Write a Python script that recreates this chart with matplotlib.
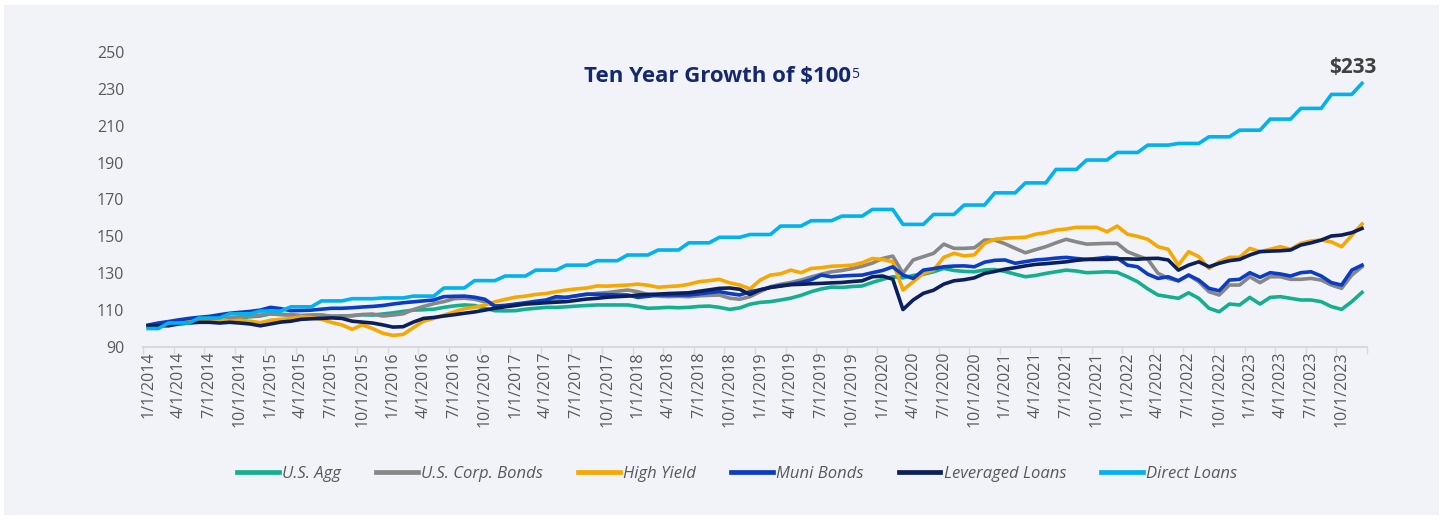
import numpy as np
import pandas as pd
import matplotlib
matplotlib.use("Agg")
import matplotlib.pyplot as plt
from matplotlib.patches import Rectangle
from matplotlib.lines import Line2D

# monthly x categories, 1/1/2014 .. 12/1/2023
months = pd.date_range("2014-01-01", periods=120, freq="MS")
month_labels = [f"{d.month}/{d.day}/{d.year}" for d in months]

us_agg = [
    101.5, 102, 102.2, 103, 104, 104.5, 104.5, 105, 105, 105.8, 106.4, 106.8, 108, 107.8, 107.5, 107, 107.2, 107.3, 106.5, 106.8,
    107, 107.5, 107.3, 107.9, 108.5, 109.3, 110, 110.2, 110.5, 111.5, 112.3, 112.8, 112.5, 111, 109.7, 109.6, 109.7, 110.5, 111, 111.5,
    111.5, 111.8, 112.2, 112.5, 112.8, 112.8, 112.8, 112.8, 112, 111, 111.2, 111.5, 111.3, 111.5, 112, 112.2, 111.5, 110.4, 111.2, 113.2,
    114.2, 114.6, 115.5, 116.5, 118, 120, 121.5, 122.5, 122.3, 122.8, 123.1, 125, 126.7, 128.1, 127.5, 128.8, 129.5, 130.8, 132.6, 131.5,
    131, 130.8, 131.8, 132, 131, 129.5, 128.1, 128.8, 129.9, 130.8, 131.7, 131.2, 130.3, 130.5, 130.8, 130.5, 128.1, 125.4, 121.5, 118.2,
    117.3, 116.4, 119.4, 116.4, 111, 109.1, 113.3, 112.8, 116.9, 113.3, 116.9, 117.3, 116.4, 115.5, 115.5, 114.6, 111.9, 110.4, 114.6, 119.6,
]
us_corp = [
    101.5, 102.5, 103, 103.5, 104.5, 104.8, 105.3, 105.5, 105.8, 106.3, 106.8, 107.3, 108, 107.5, 107.3, 107, 107.3, 107.3, 106.8, 106.8,
    107, 107.6, 107.9, 106.8, 107.3, 108, 110.3, 112, 113.5, 114.6, 116.2, 116.5, 115.9, 114.5, 112.3, 112.5, 113, 113.5, 114, 114.8,
    115.8, 117, 117.8, 118.5, 119.1, 119.5, 120.2, 120.9, 120, 118.5, 117.6, 117.3, 117.5, 117.3, 117.8, 118, 118.2, 116.5, 115.9, 117.3,
    120, 122.7, 124, 125, 126.3, 128, 129.5, 130.8, 131.5, 132.5, 133.8, 135.5, 138, 139.3, 130, 137.2, 139, 140.8, 145.8, 143.5,
    143.5, 143.8, 148, 148, 146, 143.5, 141.1, 142.8, 144.4, 146.5, 148.4, 147, 145.8, 146, 146.2, 146.2, 141.7, 139.5, 137.5, 130,
    127.2, 125.9, 129, 125.4, 120, 118.2, 123.6, 123.6, 128.1, 124.9, 128.1, 128.1, 126.7, 126.7, 127.2, 126.3, 123.6, 121.8, 129, 133.5,
]
high_yield = [
    101, 102.5, 103, 103.5, 104.5, 105, 104, 105, 104, 104.5, 104, 103.2, 104.5, 105, 105.5, 106.4, 106, 105, 103.3, 102,
    99.6, 102, 100, 97.5, 96.3, 96.8, 100.5, 104, 105.5, 107.3, 109, 110.8, 111.5, 112.8, 114.5, 115.8, 117, 117.6, 118.5, 119,
    120, 120.9, 121.5, 122, 123.1, 123, 123.3, 123.6, 124.1, 123.5, 122.4, 122.8, 123.1, 124, 125.4, 126, 126.7, 124.8, 123.6, 121.5,
    126.3, 129, 129.7, 131.7, 130.3, 132.6, 133, 133.8, 134, 134.4, 135.7, 138, 137.5, 136.2, 120.9, 125.4, 129.9, 131.7, 138.6, 140.8,
    139.4, 140, 146.2, 148.4, 149, 149.3, 149.5, 151.2, 152, 153.4, 154, 154.9, 154.9, 154.9, 152.5, 155.6, 151.2, 150, 148.4, 144.4,
    143, 134.4, 141.7, 139, 132.6, 136.2, 138.6, 138.6, 143.5, 141.7, 143, 144.4, 143, 146.2, 147.5, 148, 147, 144.4, 150.5, 156.7,
]
muni = [
    101.9, 103, 103.8, 104.7, 105.5, 106.1, 106.6, 107.5, 108.3, 108.8, 109.3, 110, 111.5, 110.8, 109.7, 109.8, 110, 110.5, 111, 111,
    111.3, 111.7, 112, 112.5, 113.3, 114, 114.5, 115, 115.5, 117.3, 117.5, 117.6, 117, 115.9, 112.2, 112.5, 113.3, 114, 114.8, 115.5,
    117.3, 116.9, 117.8, 118.7, 118.5, 118.4, 118.2, 118.2, 116.9, 117.5, 118.2, 118.2, 118.2, 118.2, 118.8, 119.5, 120, 119, 118.2, 120,
    121, 122.3, 123.3, 124, 125, 126.5, 129, 128.1, 128.5, 128.8, 129, 130.3, 131.5, 133.5, 129, 127.2, 131.7, 132.5, 133.5, 133.9,
    134, 133.5, 136, 137, 137.2, 135.4, 136.3, 137.2, 137.6, 138.2, 138.6, 138, 137.5, 138, 138.6, 138.3, 134.4, 133.5, 129.5, 127.2,
    128.1, 125.9, 129, 126.3, 121.8, 120.5, 126.3, 126.7, 130.3, 127.8, 130.3, 129.6, 128.5, 130.3, 130.8, 128.5, 124.9, 123.6, 131.7, 134.4,
]
lev_loans = [
    101.5, 101.5, 101.5, 102.5, 103, 103.4, 103.4, 103, 103.4, 103, 102.5, 101.5, 102.5, 103.5, 104, 105, 105.3, 105.5, 105.8, 105.5,
    104, 103.5, 103, 102, 100.8, 101, 103.5, 105.5, 106, 106.8, 107.5, 108.3, 109, 110, 111, 111.8, 112.5, 113.3, 113.6, 114,
    114.3, 114.6, 115.3, 116, 116.4, 117, 117.3, 117.6, 118.2, 118.5, 118.7, 119, 119.2, 119.4, 120.2, 121, 121.8, 122, 121.3, 118.5,
    121, 122.3, 123, 123.8, 124, 124.3, 124.5, 124.8, 125, 125.5, 125.9, 128.1, 128.5, 126.8, 110.3, 115.5, 119.1, 120.8, 124.1, 125.9,
    126.5, 127.5, 129.9, 131, 132.2, 133, 134, 134.8, 135.2, 135.7, 136.2, 137, 137.5, 137.5, 137.5, 137.8, 137.8, 137.6, 138, 138.1,
    137.2, 131.7, 134.4, 136.2, 133.5, 135.4, 136.8, 137.5, 139.9, 141.7, 142, 142.2, 142.6, 145.3, 146.5, 148, 150.2, 150.7, 152, 154.3,
]
direct_loans = [
    100, 100, 103, 103, 103, 105.7, 105.7, 105.7, 108, 108, 108, 109.5, 109.5, 109.5, 111.8, 111.8, 111.8, 115, 115, 115,
    116.2, 116.2, 116.2, 116.6, 116.6, 116.6, 117.6, 117.6, 117.6, 122, 122, 122, 126, 126, 126, 128.5, 128.5, 128.5, 131.7, 131.7,
    131.7, 134.4, 134.4, 134.4, 136.8, 136.8, 136.8, 139.9, 139.9, 139.9, 142.6, 142.6, 142.6, 146.5, 146.5, 146.5, 149.5, 149.5, 149.5, 151,
    151, 151, 155.6, 155.6, 155.6, 158.5, 158.5, 158.5, 161, 161, 161, 164.6, 164.6, 164.6, 156.5, 156.5, 156.5, 161.9, 161.9, 161.9,
    167, 167, 167, 173.6, 173.6, 173.6, 179, 179, 179, 186.3, 186.3, 186.3, 191.4, 191.4, 191.4, 195.5, 195.5, 195.5, 199.5, 199.5,
    199.5, 200.4, 200.4, 200.4, 204, 204, 204, 207.6, 207.6, 207.6, 213.6, 213.6, 213.6, 219.4, 219.4, 219.4, 227, 227, 227, 233,
]

series_names = ["U.S. Agg", "U.S. Corp. Bonds", "High Yield", "Muni Bonds", "Leveraged Loans", "Direct Loans"]
series_values = [us_agg, us_corp, high_yield, muni, lev_loans, direct_loans]
series_colors = ["#14B08E", "#878787", "#F7A800", "#0B3DC4", "#0A1F5C", "#00B2EE"]

plt.rcParams["font.family"] = ["Open Sans", "DejaVu Sans"]

fig = plt.figure(figsize=(14.43, 5.2), dpi=100, facecolor="white")
# light panel behind the chart
fig.patches.append(Rectangle((0.003, 0.01), 0.994, 0.98, transform=fig.transFigure,
                             facecolor="#F2F3F8", edgecolor="none", zorder=-10))

ax = fig.add_axes([0.0991, 0.3327, 0.8483, 0.5673])
ax.set_facecolor("none")

x = np.arange(len(months))
for name, vals, col in zip(series_names, series_values, series_colors):
    ax.plot(x, vals, color=col, lw=2.6, label=name)

ax.set_xlim(-0.5, len(months) - 0.5)
ax.set_ylim(90, 250)
ax.set_yticks(range(90, 251, 20))

# tick marks between categories, labels on every 3rd month
ax.set_xticks(np.arange(-0.5, len(months), 3))
ax.set_xticklabels([])
ax.set_xticks(x[::3], minor=True)
ax.set_xticklabels(month_labels[::3], minor=True, rotation=90)
ax.tick_params(axis="x", which="major", length=5, width=1, color="#D9D9D9")
ax.tick_params(axis="x", which="minor", length=0, pad=3.5, labelsize=11.5, labelcolor="#595959")
ax.tick_params(axis="y", length=0, pad=13.5, labelsize=11.5, labelcolor="#595959")

for s in ["top", "left", "right"]:
    ax.spines[s].set_visible(False)
ax.spines["bottom"].set_color("#D9D9D9")
ax.spines["bottom"].set_linewidth(1.5)

# title with superscript
title = fig.text(0.497, 0.852, "Ten Year Growth of \\$100", ha="center", va="center",
                 fontsize=16, fontweight="bold", color="#14286E")
fig.canvas.draw()
bb = title.get_window_extent()
fig.text((bb.x1 + 0.5) / fig.bbox.width, (bb.y1 - 1) / fig.bbox.height, "5", ha="left", va="top",
         fontsize=10, color="#14286E")

# end label for Direct Loans
ax.annotate("\\$233", xy=(x[-1], direct_loans[-1]), xytext=(-9, 16), textcoords="offset pixels",
            ha="center", va="center", fontsize=15, fontweight="bold", color="#404040")

handles = [Line2D([], [], color=c, lw=3.4) for c in series_colors]
fig.legend(handles, series_names, loc="center", bbox_to_anchor=(0.511, 0.088), ncol=6,
           frameon=False, handlelength=2.5, handletextpad=0.2, columnspacing=2.1,
           prop={"style": "italic", "size": 12}, labelcolor="#595959")

fig.savefig("out.png", dpi=100, facecolor="white")
